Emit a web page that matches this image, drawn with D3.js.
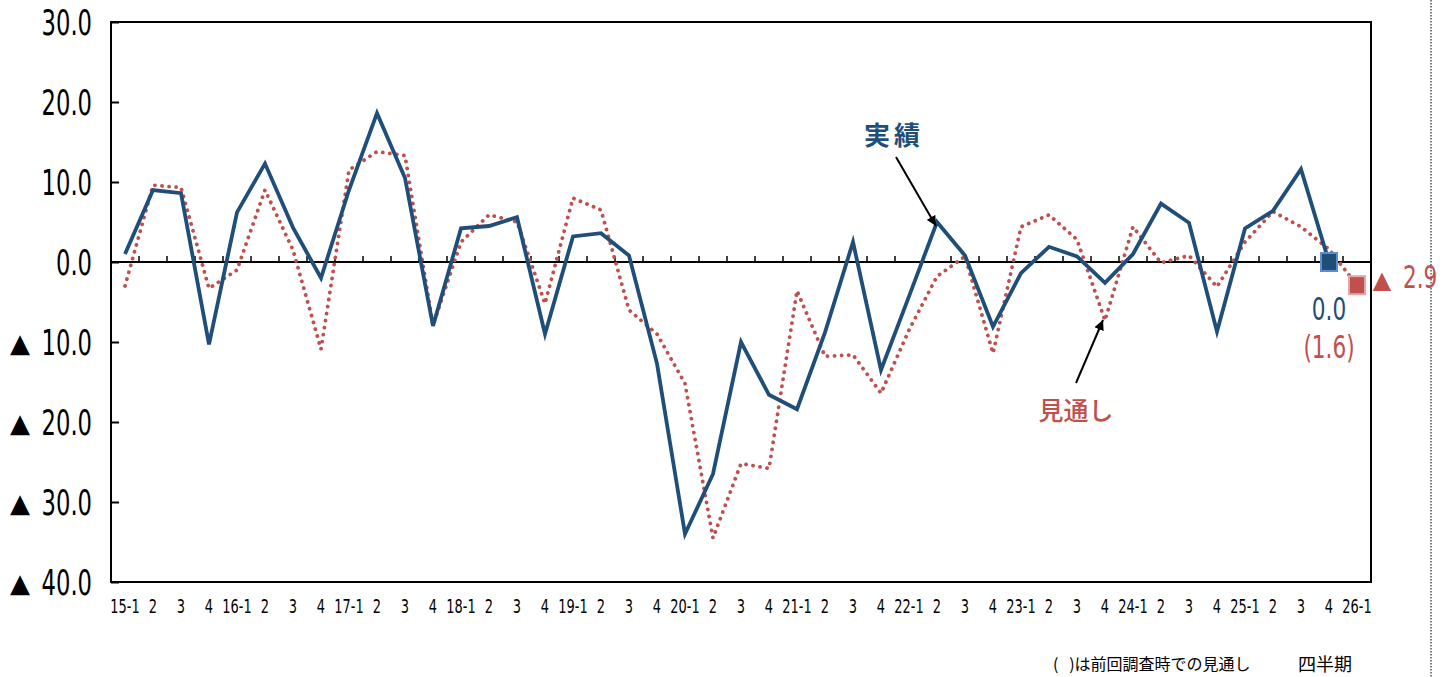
<!DOCTYPE html>
<html><head><meta charset="utf-8">
<script src="https://cdn.jsdelivr.net/npm/d3@7/dist/d3.min.js"></script>
<style>
html,body{margin:0;padding:0;background:#fff;}
svg{display:block;}
.num{font-family:"Liberation Sans Narrow","DejaVu Sans Condensed","Roboto Condensed",sans-serif;}
.jp{font-family:"Noto Sans CJK JP","Noto Sans CJK SC",sans-serif;}
</style></head>
<body>
<svg id="c" width="1448" height="677"></svg>
<script>
const categories = [
 "15-1","15-2","15-3","15-4","16-1","16-2","16-3","16-4","17-1","17-2","17-3","17-4",
 "18-1","18-2","18-3","18-4","19-1","19-2","19-3","19-4","20-1","20-2","20-3","20-4",
 "21-1","21-2","21-3","21-4","22-1","22-2","22-3","22-4","23-1","23-2","23-3","23-4",
 "24-1","24-2","24-3","24-4","25-1","25-2","25-3","25-4","26-1"];
const tickLabels = [
 "15-1","2","3","4","16-1","2","3","4","17-1","2","3","4",
 "18-1","2","3","4","19-1","2","3","4","20-1","2","3","4",
 "21-1","2","3","4","22-1","2","3","4","23-1","2","3","4",
 "24-1","2","3","4","25-1","2","3","4","26-1"];
// 実績 (15-1 .. 25-4)
const actual = [
 1.0, 9.0, 8.6, -10.3,
 6.2, 12.3, 4.3, -2.0,
 9.0, 18.6, 10.5, -8.0,
 4.2, 4.5, 5.6, -9.0,
 3.2, 3.6, 0.8, -12.7,
 -34.0, -26.5, -10.0, -16.6,
 -18.4, -8.8, 2.5, -13.5,
 -4.3, 5.0, 0.8, -8.1,
 -1.4, 1.9, 0.7, -2.6,
 1.0, 7.3, 4.9, -8.7,
 4.2, 6.4, 11.6, 0.0];
// 見通し (15-1 .. 26-1)
const forecast = [
 -3.0, 9.6, 9.3, -3.3,
 -1.0, 9.0, 1.5, -10.9,
 11.5, 13.8, 13.3, -7.9,
 2.5, 5.9, 5.0, -5.2,
 8.0, 6.5, -6.0, -9.0,
 -15.2, -34.5, -25.2, -25.8,
 -3.6, -11.8, -11.6, -16.4,
 -8.5, -1.8, 0.7, -11.4,
 4.4, 5.9, 2.8, -7.3,
 4.4, -0.1, 0.8, -3.1,
 2.5, 6.3, 4.4, 1.6,
 -2.9];
const yTicks = [30, 20, 10, 0, -10, -20, -30, -40];

const BLUE = "#1F4E79", RED = "#C0504D";
const svg = d3.select("#c");
const L = 111, R = 1371, T = 22, B = 582;
const x = d3.scaleBand().domain(categories).range([L, R]).padding(0);
const cx = c => x(c) + x.bandwidth() / 2;
const y = d3.scaleLinear().domain([-40, 30]).range([B, T]);

// frame
svg.append("rect").attr("x", L).attr("y", T).attr("width", R - L).attr("height", B - T)
  .attr("fill", "none").attr("stroke", "#000").attr("stroke-width", 2);

// dotted right guide
svg.append("line").attr("x1", 1431).attr("x2", 1431).attr("y1", 0).attr("y2", 677)
  .attr("stroke", "#000").attr("stroke-width", 1).attr("stroke-dasharray", "1.5 1.5");

// y axis
const SX = 0.7;
const yAxis = d3.axisLeft(y).tickValues(yTicks).tickSize(-8).tickPadding(19)
  .tickFormat(d => Math.abs(d).toFixed(1));
const gy = svg.append("g").attr("transform", `translate(${L},0)`).call(yAxis);
gy.select(".domain").remove();
gy.selectAll(".tick line").attr("stroke", "#000").attr("stroke-width", 2);
gy.selectAll(".tick text").attr("class", "num").attr("font-size", 36).attr("fill", "#000")
  .attr("dy", "0.36em").attr("transform", `scale(${SX},1)`)
  .attr("x", -19 / SX);
gy.selectAll(".tick").filter(d => d < 0).append("text")
  .attr("x", -91).attr("dy", "0.36em").attr("text-anchor", "middle")
  .attr("font-size", 26).attr("fill", "#000").attr("font-family", "DejaVu Sans")
  .text("▲");

// zero line with boundary ticks
svg.append("line").attr("x1", L).attr("x2", R).attr("y1", y(0)).attr("y2", y(0))
  .attr("stroke", "#000").attr("stroke-width", 2);
svg.append("g").selectAll("line").data(categories.slice(1)).join("line")
  .attr("x1", d => x(d)).attr("x2", d => x(d))
  .attr("y1", y(0)).attr("y2", y(0) - 6)
  .attr("stroke", "#000").attr("stroke-width", 1.5);

// x labels
svg.append("g").selectAll("text").data(categories).join("text")
  .attr("class", "num")
  .attr("transform", d => `translate(${cx(d)},613) scale(0.76,1)`)
  .attr("text-anchor", "middle").attr("font-size", 19).attr("fill", "#000")
  .text((d, i) => tickLabels[i]);

// lines
const line = d3.line().x(d => cx(d.c)).y(d => y(d.v));
const fData = forecast.map((v, i) => ({ c: categories[i], v }));
const aData = actual.map((v, i) => ({ c: categories[i], v }));
svg.append("path").datum(fData).attr("d", line).attr("fill", "none")
  .attr("stroke", RED).attr("stroke-width", 3.8).attr("stroke-linecap", "round")
  .attr("stroke-dasharray", "0.1 7");
svg.append("path").datum(aData).attr("d", line).attr("fill", "none")
  .attr("stroke", BLUE).attr("stroke-width", 3.8).attr("stroke-linejoin", "miter");

// end markers
const lastA = aData[aData.length - 1], lastF = fData[fData.length - 1];
svg.append("rect").attr("x", cx(lastA.c) - 8).attr("y", y(lastA.v) - 9).attr("width", 16).attr("height", 18)
  .attr("fill", BLUE).attr("stroke", "#5B8FD0").attr("stroke-width", 2);
svg.append("rect").attr("x", cx(lastF.c) - 8).attr("y", y(lastF.v) - 9).attr("width", 16).attr("height", 18)
  .attr("fill", RED).attr("stroke", "#E8A5A3").attr("stroke-width", 2);

// value labels
svg.append("text").attr("class", "num").attr("transform", `translate(${cx(lastA.c)},320) scale(0.75,1)`)
  .attr("text-anchor", "middle").attr("font-size", 32).attr("fill", BLUE)
  .text(lastA.v.toFixed(1));
svg.append("text").attr("class", "num").attr("transform", `translate(${cx(lastA.c)},358) scale(0.75,1)`)
  .attr("text-anchor", "middle").attr("font-size", 32).attr("fill", RED)
  .text(`(${forecast[forecast.length - 2].toFixed(1)})`);
svg.append("text").attr("x", 1382).attr("y", 288).attr("text-anchor", "middle")
  .attr("font-size", 24).attr("fill", RED).attr("font-family", "DejaVu Sans").text("▲");
svg.append("text").attr("class", "num").attr("transform", `translate(1403,288) scale(0.75,1)`)
  .attr("font-size", 32).attr("fill", RED).text(Math.abs(lastF.v).toFixed(1));

// annotations
const defs = svg.append("defs");
defs.append("marker").attr("id", "ah").attr("viewBox", "0 0 10 10").attr("refX", 10).attr("refY", 5)
  .attr("markerWidth", 5).attr("markerHeight", 5).attr("orient", "auto")
  .append("path").attr("d", "M0,0 L10,5 L0,10 z").attr("fill", "#000");
svg.append("line").attr("x1", 896).attr("y1", 157).attr("x2", 936).attr("y2", 226)
  .attr("stroke", "#000").attr("stroke-width", 2).attr("marker-end", "url(#ah)");
svg.append("line").attr("x1", 1076).attr("y1", 383).attr("x2", 1103).attr("y2", 320)
  .attr("stroke", "#000").attr("stroke-width", 2).attr("marker-end", "url(#ah)");
svg.append("text").attr("class", "jp").attr("x", 894).attr("y", 145).attr("text-anchor", "middle")
  .attr("font-size", 26).attr("font-weight", "bold").attr("fill", BLUE).attr("letter-spacing", 4).text("実績");
svg.append("text").attr("class", "jp").attr("x", 1076).attr("y", 420).attr("text-anchor", "middle")
  .attr("font-size", 25).attr("font-weight", 500).attr("fill", RED).text("見通し");

// footer
svg.append("text").attr("class", "jp").attr("x", 1053).attr("y", 670)
  .attr("font-size", 16).attr("fill", "#000").attr("xml:space", "preserve").text("(   )は前回調査時での見通し");
svg.append("text").attr("class", "jp").attr("x", 1298).attr("y", 671)
  .attr("font-size", 18).attr("fill", "#000").text("四半期");
</script>
</body></html>
